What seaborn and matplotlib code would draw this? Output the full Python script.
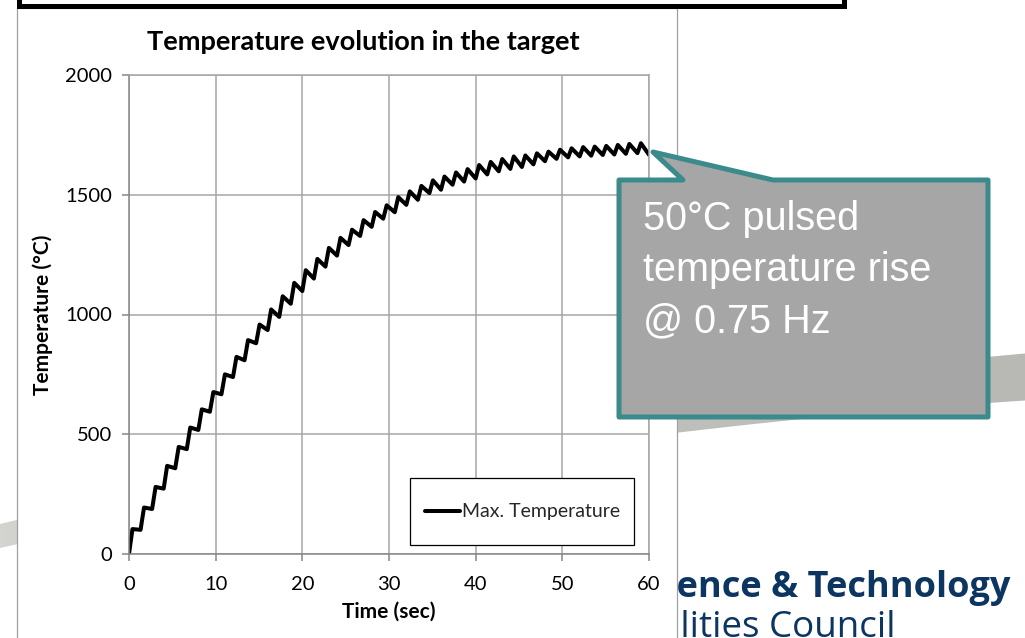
import numpy as np
import pandas as pd
import matplotlib
matplotlib.use("Agg")
import matplotlib.pyplot as plt
from matplotlib.patches import Rectangle, Polygon
from matplotlib.colors import LinearSegmentedColormap
from matplotlib.legend_handler import HandlerLine2D
import seaborn as sns

# ---- data -------------------------------------------------------------
PULSE_HZ = 0.75          # beam pulse repetition rate
RISE_S = 0.4             # duration of each pulse heating step (s)

# temperature just before each pulse (degC)
pulse_start_temp = [
    0, 101, 188, 273, 358, 438, 518, 594, 667, 739,
    809, 880, 935, 990, 1045, 1098, 1150, 1200, 1246, 1290,
    1328, 1366, 1400, 1427, 1458, 1479, 1507, 1521, 1542, 1555,
    1568, 1585, 1598, 1608, 1616, 1627, 1640, 1650, 1656, 1660,
    1663, 1666, 1668, 1671, 1674,
]
# temperature right after each pulse (degC)
pulse_peak_temp = [
    104, 194, 280, 368, 447, 528, 604, 676, 750, 823,
    893, 958, 1021, 1076, 1132, 1185, 1232, 1278, 1320, 1354,
    1394, 1428, 1456, 1490, 1514, 1537, 1560, 1576, 1593, 1607,
    1624, 1637, 1649, 1660, 1664, 1673, 1680, 1688, 1694, 1699,
    1701, 1704, 1708, 1712, 1715,
]
end_time = 60
end_temp = 1667

x_ticks = [0, 10, 20, 30, 40, 50, 60]
y_ticks = [0, 500, 1000, 1500, 2000]

title_text = "Temperature evolution in the target"
x_label = "Time (sec)"
y_label = "Temperature (°C)"
series_name = "Max. Temperature"
callout_lines = ["50°C pulsed", "temperature rise", "@ 0.75 Hz"]
logo_line1 = "Science & Technology"
logo_line2 = "Facilities Council"

# ---- assemble the pulsed temperature trace -----------------------------
t_pulse = np.arange(len(pulse_start_temp)) / PULSE_HZ
times = np.column_stack([t_pulse, t_pulse + RISE_S]).ravel()
temps = np.column_stack([pulse_start_temp, pulse_peak_temp]).ravel()
times = np.append(times, end_time)
temps = np.append(temps, end_temp)
df = pd.DataFrame({x_label: times, y_label: temps})


class LoweredLineHandler(HandlerLine2D):
    """Legend line handler that sits the sample line level with the label."""

    def __init__(self, drop=0.0, **kw):
        super().__init__(**kw)
        self._drop = drop

    def create_artists(self, legend, orig_handle, xdescent, ydescent, width,
                       height, fontsize, trans):
        return super().create_artists(legend, orig_handle, xdescent,
                                      ydescent + 2 * self._drop, width, height,
                                      fontsize, trans)


# ---- figure ------------------------------------------------------------
sns.set_theme(style="white")
plt.rcParams["font.family"] = ["Lato", "DejaVu Sans"]

W, H = 1025, 638
fig = plt.figure(figsize=(W / 100, H / 100), dpi=100)
fig.patch.set_facecolor("white")

# slide background layer in pixel coordinates
bg = fig.add_axes([0, 0, 1, 1], zorder=0)
bg.set_xlim(0, W)
bg.set_ylim(H, 0)
bg.axis("off")

# grey swoosh across the slide
xs = np.linspace(0, W, 200)
coef = np.polyfit([0, 678, 1025], [536, 413, 377], 2)
yc = np.polyval(coef, xs)
half = (24 + (47 - 24) * xs / W) / 2
verts = np.concatenate([np.column_stack([xs, yc - half]),
                        np.column_stack([xs[::-1], (yc + half)[::-1]])])
swoosh = Polygon(verts, closed=True, facecolor="none", edgecolor="none")
bg.add_patch(swoosh)
grad = np.linspace(0, 1, 256).reshape(1, -1)
cmap = LinearSegmentedColormap.from_list("sw", ["#d3d3d0", "#c2c3be", "#b8b9b4"])
img = bg.imshow(grad, extent=[0, W, 600, 300], cmap=cmap, aspect="auto", zorder=0.5)
img.set_clip_path(swoosh)

# organisation name (partly hidden behind the chart panel)
bg.text(1010, 597, logo_line1, ha="right", va="baseline", fontsize=26,
        fontweight="bold", family=["Open Sans", "DejaVu Sans"], color="#0c3562", zorder=1)
bg.text(895, 637, logo_line2, ha="right", va="baseline", fontsize=26.5,
        family=["Open Sans", "DejaVu Sans"], color="#0c3562", zorder=1)

# white chart panel
bg.add_patch(Rectangle((17, 8), 660, 660, facecolor="white", edgecolor="#a0a0a0",
                       lw=0.9, zorder=2))
# frame edge at the top of the slide
bg.add_patch(Rectangle((18.5, -40), 825, 45.5, facecolor="white", edgecolor="black",
                       lw=3.6, zorder=3))

# ---- chart -------------------------------------------------------------
ax = fig.add_axes([129 / W, 1 - 554 / H, 520 / W, 479 / H], zorder=2)
ax.patch.set_alpha(0)
sns.lineplot(data=df, x=x_label, y=y_label, color="black", lw=2.9,
             estimator=None, sort=False, label=series_name, ax=ax)

grid_c = "#a6a6a6"
ax.set_xlim(x_ticks[0], x_ticks[-1])
ax.set_ylim(y_ticks[0], y_ticks[-1])
ax.set_xticks(x_ticks)
ax.set_yticks(y_ticks)
ax.grid(True, color=grid_c, lw=1.1)
ax.set_axisbelow(True)
for side in ["top", "right"]:
    ax.spines[side].set_color(grid_c)
    ax.spines[side].set_linewidth(1.1)
for side in ["left", "bottom"]:
    ax.spines[side].set_color("#868686")
    ax.spines[side].set_linewidth(1.1)
ax.tick_params(axis="both", which="major", direction="out", length=5, width=1.1,
               color="#868686", labelsize=14.5, labelcolor="black",
               bottom=True, left=True)
ax.tick_params(axis="y", pad=7)
ax.tick_params(axis="x", pad=11)

ax.set_xlabel(x_label, fontsize=15, fontweight="bold", color="black")
ax.set_ylabel(y_label, fontsize=15, fontweight="bold", color="black")
ax.xaxis.set_label_coords(0.5, -0.100)
ax.yaxis.set_label_coords(-0.146, 0.5)
ax.set_title(title_text, fontsize=19.5, fontweight="bold", color="black",
             x=(363 - 129) / 520, y=(554 - 50) / 479, pad=0)

handles, labels = ax.get_legend_handles_labels()
leg = ax.legend(handles, labels, loc="center", bbox_to_anchor=(0.756, 0.0887),
                frameon=True, fancybox=False, edgecolor="black", framealpha=1,
                fontsize=14, handlelength=1.8, handleheight=2.6, handletextpad=0.1,
                borderpad=0.75, borderaxespad=0,
                handler_map={h: LoweredLineHandler(drop=4.0) for h in handles})
leg.get_frame().set_linewidth(0.9)

# ---- callout -----------------------------------------------------------
ov = fig.add_axes([0, 0, 1, 1], zorder=5)
ov.set_xlim(0, W)
ov.set_ylim(H, 0)
ov.axis("off")
ov.add_patch(Polygon([(619, 180), (683, 180), (653, 152), (773, 180), (988, 180),
                      (988, 417), (619, 417)], closed=True, facecolor="#a6a6a6",
                     edgecolor="#3b8a8c", lw=3.6, joinstyle="round"))
for line, base in zip(callout_lines, [230, 281, 332]):
    ov.text(643, base, line, ha="left", va="baseline", fontsize=28.5, color="white",
            family=["Liberation Sans", "DejaVu Sans"])

fig.savefig("out.png", dpi=100)
